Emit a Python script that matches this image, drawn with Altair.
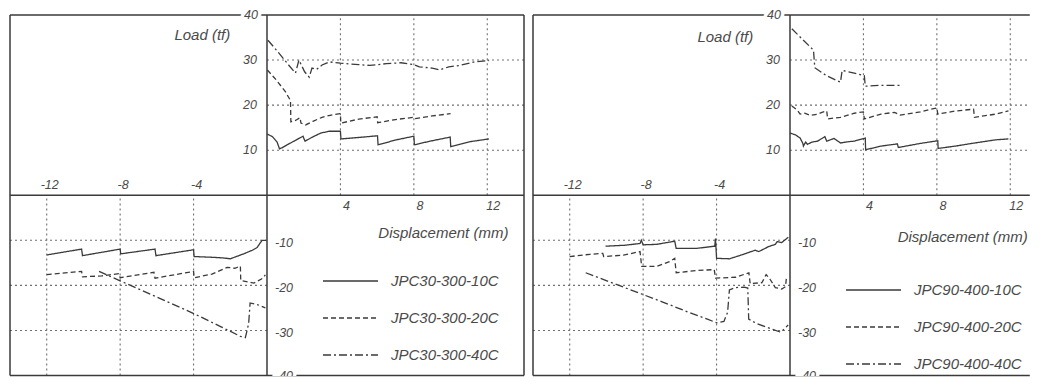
import altair as alt
import pandas as pd

# ---------------- data ----------------
SERIES_L = ["JPC30-300-10C", "JPC30-300-20C", "JPC30-300-40C"]
SERIES_R = ["JPC90-400-10C", "JPC90-400-20C", "JPC90-400-40C"]

# left panel (JPC30-300), positive branch
L10_POS = [(0, 13.6), (0.3, 13.0), (0.55, 11.8), (0.68, 10.3), (0.8, 10.5), (1.1, 11.2), (1.56, 12.2),
           (1.96, 13.1), (2.07, 12.0), (2.47, 12.9), (2.93, 13.8), (3.39, 14.2), (4.0, 14.2), (4.03, 12.5),
           (5.22, 12.9), (6.02, 13.2), (6.05, 11.2), (7.05, 12.3), (8.0, 13.1), (8.03, 11.2), (8.88, 12.0),
           (9.98, 12.9), (10.01, 10.8), (11.08, 11.9), (12.09, 12.5)]
L20_POS = [(0.02, 27.8), (0.5, 25.6), (1.0, 23.0), (1.28, 21.0), (1.3, 16.3), (1.55, 16.6), (1.8, 17.2),
           (1.85, 16.0), (2.1, 15.6), (2.5, 16.4), (3.0, 17.3), (3.5, 17.8), (4.0, 18.1), (4.02, 16.0),
           (5.0, 16.9), (6.0, 17.4), (6.03, 16.1), (7.0, 16.8), (8.0, 17.3), (8.05, 17.0), (9.0, 17.6),
           (10.0, 18.1)]
L40_POS = [(0.05, 34.4), (0.6, 31.8), (1.2, 28.8), (1.55, 27.1), (1.74, 30.0), (2.05, 27.4), (2.3, 26.2),
           (2.45, 28.2), (2.7, 27.9), (3.0, 28.9), (3.4, 29.6), (4.0, 29.3), (5.0, 29.0), (5.6, 28.8),
           (6.5, 29.2), (7.3, 29.4), (8.0, 29.0), (8.3, 28.5), (9.0, 28.2), (9.4, 27.8), (9.9, 28.5),
           (10.5, 28.8), (11.3, 29.6), (12.1, 29.9)]
# left panel, negative branch
L10_NEG = [(-12.0, -13.25), (-10.1, -11.95), (-10.05, -13.4), (-8.0, -11.95), (-7.97, -13.0), (-6.1, -11.95),
           (-6.05, -13.4), (-4.0, -12.1), (-3.97, -13.6), (-3.1, -13.75), (-2.4, -13.9), (-2.0, -14.1),
           (-1.6, -13.5), (-1.27, -13.0), (-0.8, -12.2), (-0.54, -11.6), (-0.27, -10.0), (-0.05, -10.0)]
L20_NEG = [(-12.0, -17.6), (-10.1, -16.9), (-10.05, -18.1), (-9.0, -17.9), (-8.06, -17.4), (-8.0, -18.3),
           (-6.16, -17.1), (-6.1, -18.4), (-4.0, -16.9), (-3.97, -18.3), (-3.0, -17.5), (-2.17, -16.0),
           (-1.75, -16.2), (-1.45, -15.7), (-1.43, -18.9), (-0.72, -19.5), (-0.3, -18.6), (-0.09, -17.7)]
L40_NEG = [(-9.15, -16.9), (-8.0, -19.0), (-6.0, -22.6), (-4.02, -26.2), (-2.5, -29.2), (-1.45, -31.3),
           (-1.18, -31.6), (-1.0, -28.5), (-0.92, -23.9), (-0.5, -24.3), (-0.09, -25.0)]

# right panel (JPC90-400), positive branch
R10_POS = [(0, 13.8), (0.3, 13.4), (0.55, 12.7), (0.7, 11.5), (0.73, 10.9), (0.85, 11.8), (0.95, 11.3),
           (1.2, 11.8), (1.5, 12.0), (1.9, 13.0), (2.0, 12.0), (2.4, 12.6), (2.75, 11.6), (3.2, 11.9),
           (3.5, 12.0), (4.1, 12.7), (4.12, 10.1), (4.95, 10.9), (5.85, 11.4), (5.9, 10.6), (7.1, 11.5),
           (8.05, 12.1), (8.07, 10.4), (9.0, 10.9), (9.9, 11.5), (11.2, 12.3), (11.9, 12.5)]
R20_POS = [(0.1, 19.8), (0.4, 18.9), (0.55, 18.0), (0.8, 18.2), (1.1, 17.7), (1.5, 18.0), (1.74, 18.4),
           (2.0, 18.7), (2.05, 16.95), (2.75, 17.3), (3.5, 18.2), (4.0, 18.5), (4.05, 16.95), (4.95, 18.0),
           (5.7, 18.4), (6.0, 17.8), (7.1, 18.5), (8.0, 19.4), (8.05, 18.0), (9.0, 18.7), (10.0, 19.1),
           (10.05, 17.3), (11.2, 18.0), (11.9, 18.7)]
R40_POS = [(0.1, 36.95), (0.7, 34.5), (1.28, 32.2), (1.35, 28.3), (2.0, 26.5), (2.75, 25.1), (2.84, 27.7),
           (3.5, 27.1), (4.05, 26.5), (4.1, 24.2), (5.0, 24.4), (6.04, 24.4)]
# right panel, negative branch
R10_NEG = [(-10.05, -11.3), (-9.0, -11.1), (-8.17, -10.7), (-8.1, -10.0), (-8.0, -11.0), (-7.27, -10.9),
           (-6.28, -10.2), (-6.2, -11.8), (-5.1, -11.8), (-4.1, -11.3), (-4.06, -9.6), (-4.0, -14.0),
           (-3.3, -14.1), (-2.6, -13.2), (-1.9, -12.2), (-1.7, -12.5), (-1.17, -11.4), (-0.8, -10.9),
           (-0.7, -10.3), (-0.45, -10.5), (-0.09, -9.3)]
R20_NEG = [(-12.0, -13.6), (-10.9, -13.1), (-10.2, -12.9), (-10.15, -13.6), (-9.07, -13.3), (-8.17, -12.5),
           (-8.08, -15.8), (-7.27, -15.8), (-6.55, -14.7), (-6.28, -14.0), (-6.2, -17.2), (-5.1, -16.7),
           (-4.13, -16.5), (-4.05, -18.4), (-2.96, -18.2), (-2.24, -17.2), (-2.17, -19.6), (-1.53, -19.4),
           (-1.3, -17.6), (-1.08, -18.7), (-0.8, -20.5), (-0.45, -20.8), (-0.25, -20.3), (-0.18, -17.9)]
R40_NEG = [(-11.13, -17.2), (-9.0, -20.5), (-7.0, -23.6), (-5.5, -26.0), (-4.5, -27.5), (-4.0, -28.3),
           (-3.6, -28.0), (-3.4, -26.0), (-3.3, -21.0), (-3.0, -20.5), (-2.5, -20.4), (-2.3, -20.6),
           (-2.25, -27.5), (-1.8, -28.5), (-0.5, -30.4), (-0.1, -28.8)]

# axis ticks / grid values
X_TICKS_NEG = [-12, -8, -4]
X_TICKS_POS = [4, 8, 12]
Y_TICKS_POS = [10, 20, 30]
Y_TICKS_NEG = [-10, -20, -30]
Y_TOP = 40
Y_BOTTOM = -40
LOAD_TITLE = "Load (tf)"
DISP_TITLE = "Displacement (mm)"

# ---------------- styling / layout ----------------
FONT = "Liberation Sans"
INK = "#3a3a3a"
TXT = "#4a4a4a"
GRID = "#707070"
DASHES = [[1, 0], [5, 3], [8, 3, 2, 3]]
HEIGHT = 368
YDOM = [-40.111, 41.553]
XLEFT = -14
PX_PER_MM = 18.357


def curves_df(names, pos, neg):
    rows = []
    for name, p, n in zip(names, pos, neg):
        for part, pts in (("pos", p), ("neg", n)):
            for i, (x, y) in enumerate(pts):
                rows.append({"series": name, "part": name + part, "i": i, "x": x, "y": y})
    return pd.DataFrame(rows)


def panel(names, pos, neg, xdom, width, frame_right, legend_xy, load_xy, disp_xy):
    xs = alt.Scale(domain=xdom, nice=False, zero=False)
    ys = alt.Scale(domain=YDOM, nice=False, zero=False)
    # open right side: stop the horizontal rules just short of the panel edge
    xr = 14 if frame_right else round(xdom[1] - 0.12, 3)

    def X(f="x"):
        return alt.X(f"{f}:Q", scale=xs, axis=None)

    def Y(f="y"):
        return alt.Y(f"{f}:Q", scale=ys, axis=None)

    grid_rows = ([{"x": t, "x2": t, "y": 0, "y2": Y_TOP} for t in X_TICKS_POS] +
                 [{"x": t, "x2": t, "y": Y_BOTTOM, "y2": 0} for t in X_TICKS_NEG] +
                 [{"x": 0, "x2": xr, "y": v, "y2": v} for v in Y_TICKS_POS] +
                 [{"x": XLEFT, "x2": 0, "y": v, "y2": v} for v in Y_TICKS_NEG])
    grid = alt.Chart(pd.DataFrame(grid_rows)).mark_rule(
        color=GRID, strokeWidth=1.1, strokeDash=[2, 3]).encode(
        x=X(), x2="x2:Q", y=Y(), y2="y2:Q")

    frame_rows = [{"x": XLEFT, "x2": xr, "y": Y_TOP, "y2": Y_TOP},
                  {"x": XLEFT, "x2": xr, "y": Y_BOTTOM, "y2": Y_BOTTOM},
                  {"x": XLEFT, "x2": XLEFT, "y": Y_BOTTOM, "y2": Y_TOP},
                  {"x": 0, "x2": 0, "y": Y_BOTTOM, "y2": Y_TOP},
                  {"x": XLEFT, "x2": xr, "y": 0, "y2": 0}]
    if frame_right:
        frame_rows.append({"x": 14, "x2": 14, "y": Y_BOTTOM, "y2": Y_TOP})
    frame = alt.Chart(pd.DataFrame(frame_rows)).mark_rule(
        color=INK, strokeWidth=1.5).encode(x=X(), x2="x2:Q", y=Y(), y2="y2:Q")

    lines = alt.Chart(curves_df(names, pos, neg)).mark_line(
        color=INK, strokeWidth=1.3).encode(
        x=X(), y=Y(),
        strokeDash=alt.StrokeDash(
            "series:N", scale=alt.Scale(domain=names, range=DASHES),
            legend=alt.Legend(orient="none", legendX=legend_xy[0], legendY=legend_xy[1],
                              title=None, symbolType="stroke", symbolSize=3025,
                              symbolStrokeWidth=1.3, symbolStrokeColor=INK,
                              labelFont=FONT, labelFontSize=15, labelFontStyle="italic",
                              labelColor=TXT, labelOffset=12, rowPadding=17,
                              clipHeight=20, padding=0, labelLimit=300)),
        detail="part:N", order="i:Q")

    def texts(rows, align, dx, dy, size=12.5, halo=False):
        df = pd.DataFrame(rows)
        base = alt.Chart(df)
        enc = dict(x=X(), y=Y(), text="t:N")
        out = []
        if halo:
            out.append(base.mark_text(align=align, baseline="middle", dx=dx, dy=dy, font=FONT,
                                      fontSize=size, fontStyle="italic", color="white",
                                      stroke="white", strokeWidth=7, clip=True).encode(**enc))
        out.append(base.mark_text(align=align, baseline="middle", dx=dx, dy=dy, font=FONT,
                                  fontSize=size, fontStyle="italic", color=TXT,
                                  clip=True).encode(**enc))
        return out

    layers = [grid, frame, lines]
    layers += texts([{"x": 0, "y": v, "t": str(v)} for v in Y_TICKS_POS], "right", -10, 0)
    layers += texts([{"x": 0, "y": Y_TOP, "t": str(Y_TOP)}], "right", -9, 0, halo=True)
    layers += texts([{"x": 0, "y": v, "t": str(v)} for v in Y_TICKS_NEG], "left", 8, 3)
    layers += texts([{"x": 0, "y": Y_BOTTOM, "t": str(Y_BOTTOM)}], "left", 8, 1, halo=True)
    layers += texts([{"x": t, "y": 0, "t": str(t)} for t in X_TICKS_NEG], "center", 3, -10)
    layers += texts([{"x": t, "y": 0, "t": str(t)} for t in X_TICKS_POS], "center", 6, 11)
    layers += texts([{"x": load_xy[0], "y": load_xy[1], "t": LOAD_TITLE}], "right", 0, 0, size=15)
    layers += texts([{"x": disp_xy[0], "y": disp_xy[1], "t": DISP_TITLE}], "right", 0, 0, size=15)

    return alt.layer(*layers).properties(width=width, height=HEIGHT)


# left view: 519 px wide (frame at x=-14..14); right view: 505 px so the page is exactly 1040 wide
left = panel(SERIES_L, [L10_POS, L20_POS, L40_POS], [L10_NEG, L20_NEG, L40_NEG],
             [-14.109, -14.109 + 519 / PX_PER_MM], 519, True, (314, 263), (-2.0, 35.6), (13.15, -8.4))
right = panel(SERIES_R, [R10_POS, R20_POS, R40_POS], [R10_NEG, R20_NEG, R40_NEG],
              [-14.327, -14.327 + 505 / PX_PER_MM], 505, False, (318, 272), (-2.0, 35.1), (12.95, -9.2))

chart = alt.hconcat(left, right, spacing=0, bounds="flush").resolve_scale(
    x="independent", y="independent", strokeDash="independent"
).resolve_legend(strokeDash="independent").properties(
    padding=0, background="white"
).configure_view(stroke=None)

chart.save("out.html", embed_options={"renderer": "svg", "actions": False})
